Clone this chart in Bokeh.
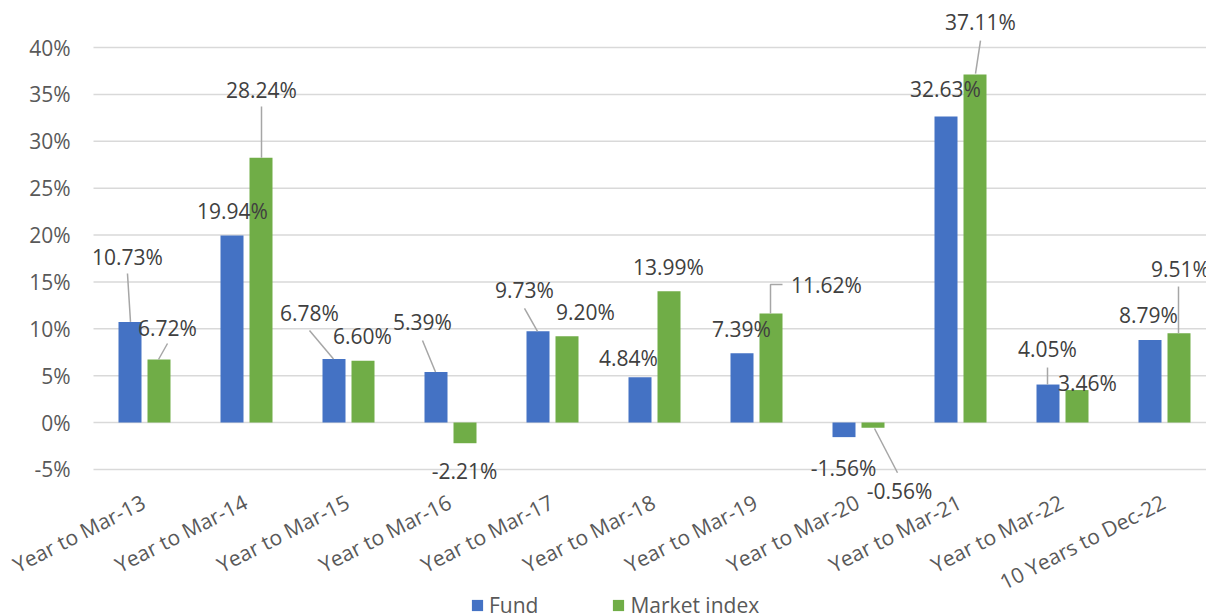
from bokeh.plotting import figure
from bokeh.models import ColumnDataSource
from bokeh.core.properties import value
from bokeh.embed import file_html
from bokeh.resources import INLINE

# ---------------- data ----------------
categories = ["Year to Mar-13", "Year to Mar-14", "Year to Mar-15", "Year to Mar-16",
              "Year to Mar-17", "Year to Mar-18", "Year to Mar-19", "Year to Mar-20",
              "Year to Mar-21", "Year to Mar-22", "10 Years to Dec-22"]
fund = [10.73, 19.94, 6.78, 5.39, 9.73, 4.84, 7.39, -1.56, 32.63, 4.05, 8.79]
market = [6.72, 28.24, 6.60, -2.21, 9.20, 13.99, 11.62, -0.56, 37.11, 3.46, 9.51]
y_ticks = [-5, 0, 5, 10, 15, 20, 25, 30, 35, 40]
y_tick_labels = ["-5%", "0%", "5%", "10%", "15%", "20%", "25%", "30%", "35%", "40%"]
series_names = ["Fund", "Market index"]

# ---------------- layout (pixels) ----------------
W, H = 1206, 615
PLOT_LEFT = 93        # where the plot area (gridlines) starts
FIRST_CAT_X = 144     # pixel x of the first category centre
PX_X = 102.0          # pixels per category
PX_Y = 9.375          # pixels per percent
ZERO_Y = 422          # canvas y of 0 %
X_START = -FIRST_CAT_X / PX_X
X_END = X_START + W / PX_X
X_PLOT0 = X_START + PLOT_LEFT / PX_X
Y_END = ZERO_Y / PX_Y
Y_START = -(H - ZERO_Y) / PX_Y
BAR_OFF = 14.5 / PX_X
BAR_W = 23.0 / PX_X
CAT_LABEL_DX, CAT_LABEL_DY, CAT_LABEL_ANGLE = -1, 78, 0.47
YLABEL_DX = -23

# label offsets in screen pixels (dx right, dy down) from the bar end
fund_lbl_off = [(-2.5, -65.4), (0.5, -25), (-24.5, -46.4), (-13.5, -49.5), (-13.5, -40.8),
                (-11.5, -19.6), (-0.5, -24.7), (-0.5, 30.4), (-0.5, -27.1), (-0.5, -36),
                (-1.5, -24.6)]
market_lbl_off = [(8.5, -32), (0.5, -68.25), (-0.5, -25.1), (-0.5, 27.3), (18.5, -24.75),
                  (-0.5, -24.8), (55.5, -28.1), (26.5, 62.75), (5.5, -52.1), (10.5, -6.6),
                  (1.5, -64.8)]
# leader lines: (series, category index, list of pixel points relative to bar end)
leaders = [
    (0, 0, [(-2.5, -48.4), (0.5, 0)]),
    (1, 0, [(8.5, -16), (-0.5, 0)]),
    (1, 1, [(0.5, -51.25), (0.5, 0)]),
    (0, 2, [(-24.5, -28.4), (-0.5, 0)]),
    (0, 3, [(-13.5, -31.5), (-0.5, 0)]),
    (0, 4, [(-13.5, -22.8), (-0.5, 0)]),
    (1, 6, [(11.5, -29.1), (-0.5, -29.1), (-0.5, 0)]),
    (1, 7, [(1.5, 0.75), (24.5, 45)]),
    (1, 8, [(5.5, -34), (0.5, -1)]),
    (0, 9, [(-0.5, -17), (-0.5, 0)]),
    (1, 10, [(-0.5, -46.8), (-0.5, 0)]),
]

FONT = "Open Sans"
AXIS_COLOR = "#595959"
LABEL_COLOR = "#404040"
GRID_COLOR = "#d9d9d9"
FUND_COLOR = "#4472C4"
MARKET_COLOR = "#70AD47"

p = figure(width=W, height=H, output_backend="svg", toolbar_location=None,
           x_range=(X_START, X_END), y_range=(Y_START, Y_END),
           min_border_left=0, min_border_right=0, min_border_top=0,
           min_border_bottom=0)
p.outline_line_color = None
p.background_fill_color = "white"
p.border_fill_color = "white"
p.xaxis.visible = False
p.yaxis.visible = False
p.xgrid.visible = False
p.ygrid.visible = False

# horizontal gridlines and value-axis labels
p.segment(x0=[X_PLOT0] * len(y_ticks), x1=[X_END] * len(y_ticks), y0=y_ticks, y1=y_ticks,
          line_color=GRID_COLOR, line_width=1.5)
p.text(x=[X_PLOT0] * len(y_ticks), y=y_ticks, text=y_tick_labels, x_offset=YLABEL_DX,
       text_align="right", text_baseline="middle",
       text_font=value(FONT), text_font_size="21px", text_color=AXIS_COLOR)

idx = list(range(len(categories)))
xs_f = [i - BAR_OFF for i in idx]
xs_m = [i + BAR_OFF for i in idx]

p.vbar(x=xs_f, top=fund, width=BAR_W, color=FUND_COLOR, line_color=None,
       legend_label=series_names[0])
p.vbar(x=xs_m, top=market, width=BAR_W, color=MARKET_COLOR, line_color=None,
       legend_label=series_names[1])

# leader lines
lx, ly = [], []
for s, i, pts in leaders:
    bx = xs_f[i] if s == 0 else xs_m[i]
    bv = fund[i] if s == 0 else market[i]
    lx.append([bx + dx / PX_X for dx, dy in pts])
    ly.append([bv - dy / PX_Y for dx, dy in pts])
p.multi_line(xs=lx, ys=ly, line_color="#a6a6a6", line_width=1.5)

# data labels
for xs, vals, offs in ((xs_f, fund, fund_lbl_off), (xs_m, market, market_lbl_off)):
    src = ColumnDataSource(dict(
        x=xs, y=vals, t=[f"{v:.2f}%" for v in vals],
        dx=[o[0] for o in offs], dy=[o[1] for o in offs]))
    p.text(x="x", y="y", text="t", x_offset="dx", y_offset="dy", source=src,
           text_align="center", text_baseline="middle",
           text_font=value(FONT), text_font_size="21px", text_color=LABEL_COLOR)

# category labels (rotated), placed on the category positions
cat_src = ColumnDataSource(dict(x=idx, y=[0] * len(idx), t=categories))
p.text(x="x", y="y", text="t", source=cat_src, angle=CAT_LABEL_ANGLE,
       x_offset=CAT_LABEL_DX, y_offset=CAT_LABEL_DY,
       text_align="right", text_baseline="middle",
       text_font=value(FONT), text_font_size="21px", text_color=AXIS_COLOR)

# legend
lg = p.legend[0]
lg.orientation = "horizontal"
lg.location = (470, -4)
lg.padding = 0
lg.margin = 0
lg.spacing = 73
lg.border_line_color = None
lg.background_fill_alpha = 0
lg.glyph_width = 14
lg.glyph_height = 14
lg.label_standoff = 5
lg.label_text_font = FONT
lg.label_text_font_size = "21px"
lg.label_text_color = AXIS_COLOR

open("out.html", "w").write(file_html(p, INLINE))
